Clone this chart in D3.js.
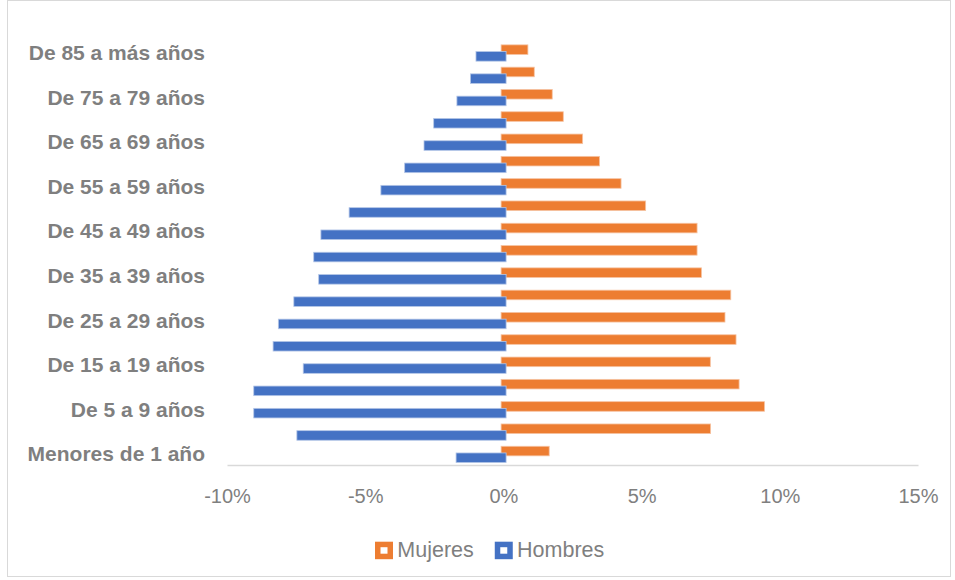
<!DOCTYPE html>
<html>
<head>
<meta charset="utf-8">
<script src="https://cdn.jsdelivr.net/npm/d3@7"></script>
<style>
    body { margin: 0; background: #fff; }
    svg text { font-family: "Liberation Sans", Arial, sans-serif; fill: #7f7f7f; }
</style>
</head>
<body>
<div id="chart"></div>
<script>
// age groups, bottom to top
const ageGroups = [
    'Menores de 1 año', 'De 1 a 4 años', 'De 5 a 9 años', 'De 10 a 14 años',
    'De 15 a 19 años', 'De 20 a 24 años', 'De 25 a 29 años', 'De 30 a 34 años',
    'De 35 a 39 años', 'De 40 a 44 años', 'De 45 a 49 años', 'De 50 a 54 años',
    'De 55 a 59 años', 'De 60 a 64 años', 'De 65 a 69 años', 'De 70 a 74 años',
    'De 75 a 79 años', 'De 80 a 84 años', 'De 85 a más años'
];
// % of population
const mujeres = [1.74, 7.58, 9.53, 8.61, 7.57, 8.50, 8.10, 8.31, 7.25, 7.09,
    7.09, 5.23, 4.34, 3.56, 2.95, 2.25, 1.85, 1.20, 0.97];
const hombres = [1.81, 7.57, 9.13, 9.13, 7.34, 8.43, 8.24, 7.68, 6.78, 6.96,
    6.70, 5.68, 4.53, 3.67, 2.97, 2.62, 1.78, 1.29, 1.09];
const xTicks = [-10, -5, 0, 5, 10, 15];
const seriesNames = ['Mujeres', 'Hombres'];

const colors = { Mujeres: '#ed7d31', Hombres: '#4472c4' };

const width = 955, height = 580;
const margin = { top: 41.3, right: 37, bottom: 115, left: 227 };
const plotW = width - margin.left - margin.right;
const plotH = height - margin.top - margin.bottom;

const svg = d3.select('#chart').append('svg')
    .attr('width', width)
    .attr('height', height);

// chart frame
svg.append('rect')
    .attr('x', 7.5).attr('y', 0.5)
    .attr('width', 943).attr('height', 576)
    .attr('fill', 'none')
    .attr('stroke', '#d9d9d9');

const g = svg.append('g')
    .attr('transform', `translate(${margin.left},${margin.top})`);

const x = d3.scaleLinear().domain([-10, 15]).range([0, plotW]);
const y = d3.scaleBand().domain(ageGroups.slice().reverse()).range([0, plotH]);
const bw = y.bandwidth();

// x axis
const xAxisG = g.append('g')
    .attr('transform', `translate(0,${plotH})`)
    .call(d3.axisBottom(x).tickValues(xTicks).tickSize(0).tickPadding(24)
        .tickFormat(d => `${d}%`));
xAxisG.select('.domain').attr('stroke', '#d9d9d9').attr('stroke-width', 1.5);
xAxisG.selectAll('text').style('font-size', '20px');

// y axis, every other label
const yAxisG = g.append('g')
    .call(d3.axisLeft(y).tickValues(ageGroups.filter((d, i) => i % 2 === 0))
        .tickSize(0).tickPadding(22));
yAxisG.select('.domain').remove();
yAxisG.selectAll('text')
    .attr('dy', '0.36em')
    .style('font-size', '21px')
    .style('font-weight', 'bold');

const rows = ageGroups.map((a, i) => ({ age: a, m: mujeres[i], h: hombres[i] }));

// Mujeres bars (right)
g.selectAll('.bar-m')
    .data(rows)
    .join('rect')
    .attr('class', 'bar-m')
    .attr('x', x(0) - 2.3)
    .attr('y', d => y(d.age) + bw * 0.16)
    .attr('width', d => x(d.m) - x(0))
    .attr('height', bw * 0.43)
    .attr('fill', colors.Mujeres)
    .attr('stroke', '#f6c3a2')
    .attr('stroke-width', 0.8);

// Hombres bars (left)
g.selectAll('.bar-h')
    .data(rows)
    .join('rect')
    .attr('class', 'bar-h')
    .attr('x', d => x(-d.h) + 2.7)
    .attr('y', d => y(d.age) + bw * 0.46)
    .attr('width', d => x(0) - x(-d.h))
    .attr('height', bw * 0.43)
    .attr('fill', colors.Hombres)
    .attr('stroke', '#b4c6e7')
    .attr('stroke-width', 0.8);

// legend
const legend = svg.append('g').attr('transform', 'translate(375,541.7)');
let lx = 0;
seriesNames.forEach(name => {
    const item = legend.append('g').attr('transform', `translate(${lx},0)`);
    item.append('rect')
        .attr('x', 2.75).attr('y', 2.75)
        .attr('width', 12.5).attr('height', 12)
        .attr('fill', '#fff')
        .attr('stroke', colors[name])
        .attr('stroke-width', 5.5);
    const t = item.append('text')
        .attr('x', 22.3).attr('y', 15)
        .style('font-size', '21.5px')
        .text(name);
    lx += 22.3 + t.node().getComputedTextLength() + 21;
});
</script>
</body>
</html>
